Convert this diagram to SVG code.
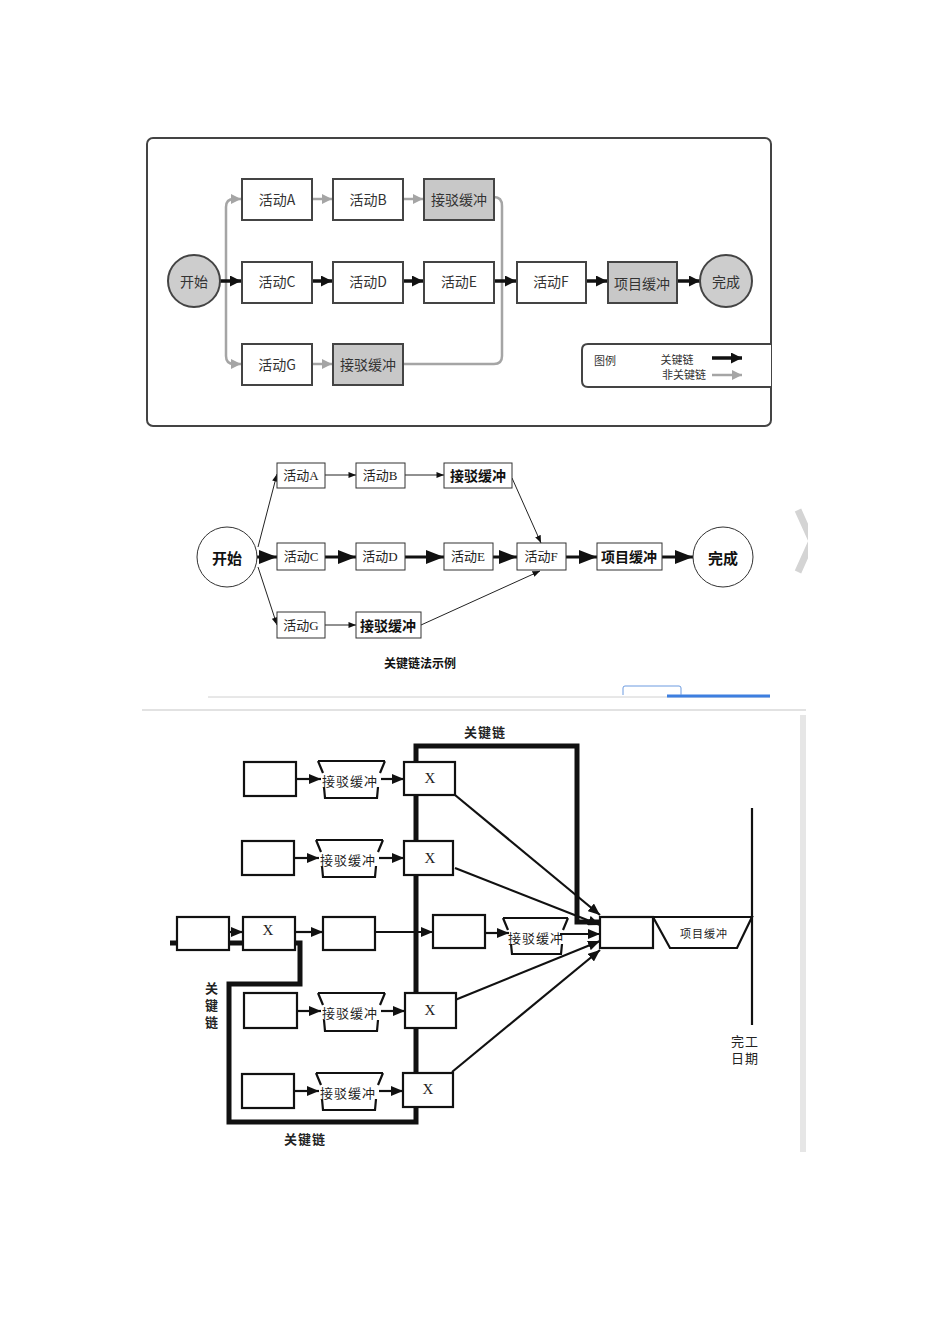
<svg xmlns="http://www.w3.org/2000/svg" width="950" height="1344" viewBox="0 0 950 1344">
<style>
.t1{font-family:"Noto Sans CJK SC","Noto Sans",sans-serif;font-size:14px;fill:#333;text-anchor:middle;dominant-baseline:central}
.b1{fill:#fff;stroke:#444;stroke-width:2}
.g1{fill:#c8c8c8;stroke:#444;stroke-width:2}
.c1{fill:#cdcdcd;stroke:#444;stroke-width:2}
.ga{fill:none;stroke:#a5a5a5;stroke-width:2.5}
.ka{fill:none;stroke:#111;stroke-width:3.5}
.t2{font-family:"Liberation Serif","Noto Sans CJK SC",serif;font-size:13px;fill:#222;text-anchor:middle;dominant-baseline:central}
.t2b{font-family:"Noto Sans CJK SC",sans-serif;font-size:14px;font-weight:bold;fill:#111;text-anchor:middle;dominant-baseline:central}
.b2{fill:#fff;stroke:#333;stroke-width:1}
.n2{fill:none;stroke:#222;stroke-width:1}
.k2{fill:none;stroke:#111;stroke-width:3}
.b3{fill:#fff;stroke:#111;stroke-width:2.2}
.l3{fill:none;stroke:#111;stroke-width:2.2}
.t3{font-family:"Noto Sans CJK SC",serif;font-size:13px;fill:#222;text-anchor:middle;dominant-baseline:central;letter-spacing:1px}
.x3{font-family:"Liberation Serif",serif;font-size:15px;fill:#222;text-anchor:middle;dominant-baseline:central}
</style>
<defs>
<marker id="gh" viewBox="0 0 10 10" refX="10" refY="5" markerWidth="10" markerHeight="10" markerUnits="userSpaceOnUse" orient="auto"><path d="M0,0 L10,5 L0,10 z" fill="#a5a5a5"/></marker>
<marker id="kh" viewBox="0 0 10 10" refX="10" refY="5" markerWidth="11" markerHeight="11" markerUnits="userSpaceOnUse" orient="auto"><path d="M0,0 L10,5 L0,10 z" fill="#111"/></marker>
<marker id="sh" viewBox="0 0 10 8" refX="10" refY="4" markerWidth="8" markerHeight="6" markerUnits="userSpaceOnUse" orient="auto"><path d="M0,0 L10,4 L0,8 z" fill="#111"/></marker>
<marker id="bh" viewBox="0 0 18 14" refX="18" refY="7" markerWidth="18" markerHeight="14" markerUnits="userSpaceOnUse" orient="auto"><path d="M0,0 L18,7 L0,14 z" fill="#111"/></marker>
<marker id="ah" viewBox="0 0 12 10" refX="12" refY="5" markerWidth="12" markerHeight="10" markerUnits="userSpaceOnUse" orient="auto"><path d="M0,0 L12,5 L0,10 z" fill="#111"/></marker>
<clipPath id="cr"><rect x="0" y="0" width="808" height="1344"/></clipPath>
</defs>
<rect width="950" height="1344" fill="#fff"/>

<!-- ===== Top diagram ===== -->
<g id="top-frame"><rect x="147" y="138" width="624" height="288" rx="6" fill="#fff" stroke="#444" stroke-width="2"/></g>
<g id="top-connectors">
<path class="ga" d="M218,281 L226,281 M226,281 L226,207 Q226,199 234,199 L241,199" marker-end="url(#gh)"/>
<path class="ga" d="M226,281 L226,356 Q226,364 234,364 L241,364" marker-end="url(#gh)"/>
<path class="ga" d="M312,199 L332,199" marker-end="url(#gh)"/>
<path class="ga" d="M403,199 L423,199" marker-end="url(#gh)"/>
<path class="ga" d="M312,364 L332,364" marker-end="url(#gh)"/>
<path class="ga" d="M494,197 Q502,197 502,206 L502,281"/>
<path class="ga" d="M403,364 L494,364 Q502,364 502,356 L502,281"/>
<path class="ka" d="M220,281 L241,281" marker-end="url(#kh)"/>
<path class="ka" d="M312,281 L332,281" marker-end="url(#kh)"/>
<path class="ka" d="M403,281 L423,281" marker-end="url(#kh)"/>
<path class="ka" d="M494,281 L516,281" marker-end="url(#kh)"/>
<path class="ka" d="M586,281 L607,281" marker-end="url(#kh)"/>
<path class="ka" d="M677,281 L700,281" marker-end="url(#kh)"/>
</g>
<g id="t-start"><circle class="c1" cx="194" cy="281" r="26"/><text class="t1" x="194" y="281">开始</text></g>
<g id="t-A"><rect class="b1" x="242" y="179" width="70" height="41"/><text class="t1" x="277" y="199">活动A</text></g>
<g id="t-B"><rect class="b1" x="333" y="179" width="70" height="41"/><text class="t1" x="368" y="199">活动B</text></g>
<g id="t-buf1"><rect class="g1" x="424" y="179" width="70" height="41"/><text class="t1" x="459" y="199">接驳缓冲</text></g>
<g id="t-C"><rect class="b1" x="242" y="262" width="70" height="41"/><text class="t1" x="277" y="281">活动C</text></g>
<g id="t-D"><rect class="b1" x="333" y="262" width="70" height="41"/><text class="t1" x="368" y="281">活动D</text></g>
<g id="t-E"><rect class="b1" x="424" y="262" width="70" height="41"/><text class="t1" x="459" y="281">活动E</text></g>
<g id="t-F"><rect class="b1" x="517" y="262" width="69" height="41"/><text class="t1" x="551" y="281">活动F</text></g>
<g id="t-PB"><rect class="g1" x="608" y="262" width="69" height="41"/><text class="t1" x="642" y="283">项目缓冲</text></g>
<g id="t-done"><circle class="c1" cx="726" cy="281" r="26"/><text class="t1" x="726" y="281">完成</text></g>
<g id="t-G"><rect class="b1" x="242" y="344" width="70" height="41"/><text class="t1" x="277" y="364">活动G</text></g>
<g id="t-buf2"><rect class="g1" x="333" y="344" width="70" height="41"/><text class="t1" x="368" y="364">接驳缓冲</text></g>
<g id="t-legend">
<path d="M771,344 L588,344 Q582,344 582,350 L582,381 Q582,387 588,387 L771,387" fill="#fff" stroke="#444" stroke-width="2"/>
<text class="t1" x="605" y="360" style="font-size:11px">图例</text>
<text class="t1" x="677" y="359" style="font-size:11px">关键链</text>
<text class="t1" x="684" y="374" style="font-size:11px">非关键链</text>
<path class="ka" d="M712,358 L742,358" marker-end="url(#kh)"/>
<path class="ga" d="M712,375 L742,375" marker-end="url(#gh)"/>
</g>

<!-- ===== Middle diagram ===== -->
<g id="mid-connectors">
<path class="n2" d="M258,547 L277,474" marker-end="url(#sh)"/>
<path class="n2" d="M258,567 L277,625" marker-end="url(#sh)"/>
<path class="n2" d="M325,475 L356,475" marker-end="url(#sh)"/>
<path class="n2" d="M405,475 L444,475" marker-end="url(#sh)"/>
<path class="n2" d="M325,625 L356,625" marker-end="url(#sh)"/>
<path class="n2" d="M512,478 L541,543" marker-end="url(#sh)"/>
<path class="n2" d="M421,625 L540,571" marker-end="url(#sh)"/>
<path class="k2" d="M257,557 L277,557" marker-end="url(#bh)"/>
<path class="k2" d="M325,557 L356,557" marker-end="url(#bh)"/>
<path class="k2" d="M405,557 L444,557" marker-end="url(#bh)"/>
<path class="k2" d="M493,557 L517,557" marker-end="url(#bh)"/>
<path class="k2" d="M566,557 L597,557" marker-end="url(#bh)"/>
<path class="k2" d="M662,557 L693,557" marker-end="url(#bh)"/>
</g>
<g id="m-start"><circle cx="227" cy="557" r="30" fill="#fff" stroke="#333" stroke-width="1"/><text class="t2b" x="227" y="557" style="font-size:15px">开始</text></g>
<g id="m-A"><rect class="b2" x="277" y="463" width="48" height="25"/><text class="t2" x="301" y="475">活动A</text></g>
<g id="m-B"><rect class="b2" x="356" y="463" width="49" height="25"/><text class="t2" x="380" y="475">活动B</text></g>
<g id="m-buf1"><rect class="b2" x="444" y="463" width="68" height="25"/><text class="t2b" x="478" y="475">接驳缓冲</text></g>
<g id="m-C"><rect class="b2" x="277" y="543" width="48" height="27"/><text class="t2" x="301" y="556">活动C</text></g>
<g id="m-D"><rect class="b2" x="356" y="543" width="49" height="27"/><text class="t2" x="380" y="556">活动D</text></g>
<g id="m-E"><rect class="b2" x="444" y="543" width="49" height="27"/><text class="t2" x="468" y="556">活动E</text></g>
<g id="m-F"><rect class="b2" x="517" y="543" width="49" height="27"/><text class="t2" x="541" y="556">活动F</text></g>
<g id="m-PB"><rect class="b2" x="597" y="543" width="65" height="27"/><text class="t2b" x="629" y="556">项目缓冲</text></g>
<g id="m-done"><circle cx="723" cy="557" r="30" fill="#fff" stroke="#333" stroke-width="1"/><text class="t2b" x="723" y="557" style="font-size:15px">完成</text></g>
<g id="m-G"><rect class="b2" x="277" y="612" width="48" height="26"/><text class="t2" x="301" y="625">活动G</text></g>
<g id="m-buf2"><rect class="b2" x="356" y="612" width="65" height="26"/><text class="t2b" x="388" y="625">接驳缓冲</text></g>
<g id="m-caption"><text class="t2b" x="420" y="662" style="font-size:12px">关键链法示例</text></g>
<g id="m-page" clip-path="url(#cr)">
<polyline points="798,510 812,541 798,572" fill="none" stroke="#d4d4d4" stroke-width="7"/>
<line x1="208" y1="697" x2="770" y2="697" stroke="#d0d0d0" stroke-width="1"/>
<line x1="667" y1="696" x2="770" y2="696" stroke="#3d7fe0" stroke-width="3"/>
<path d="M623,695 L623,688 Q623,686 625,686 L679,686 Q681,686 681,688 L681,695" fill="none" stroke="#6d9be0" stroke-width="1"/>
</g>

<!-- ===== Bottom diagram ===== -->
<g id="page-lines">
<line x1="142" y1="710" x2="806" y2="710" stroke="#e2e2e2" stroke-width="2"/>
<rect x="800" y="715" width="6" height="437" fill="#e6e6e6"/>
</g>
<g id="bot-connectors">
<path class="l3" d="M296,779 L321,779" marker-end="url(#ah)"/>
<path class="l3" d="M381,779 L404,779" marker-end="url(#ah)"/>
<path class="l3" d="M294,858 L319,858" marker-end="url(#ah)"/>
<path class="l3" d="M379,858 L404,858" marker-end="url(#ah)"/>
<path class="l3" d="M297,1011 L321,1011" marker-end="url(#ah)"/>
<path class="l3" d="M381,1011 L405,1011" marker-end="url(#ah)"/>
<path class="l3" d="M294,1091 L319,1091" marker-end="url(#ah)"/>
<path class="l3" d="M379,1091 L403,1091" marker-end="url(#ah)"/>
<path class="l3" d="M229,932 L243,932" marker-end="url(#ah)"/>
<path class="l3" d="M295,932 L323,932" marker-end="url(#ah)"/>
<path class="l3" d="M375,932 L433,932" marker-end="url(#ah)"/>
<path class="l3" d="M485,933 L509,933" marker-end="url(#ah)"/>
<path class="l3" d="M560,934 L600,934" marker-end="url(#ah)"/>
<path class="l3" d="M455,795 L600,915" marker-end="url(#ah)"/>
<path class="l3" d="M455,868 L600,925" marker-end="url(#ah)"/>
<path class="l3" d="M455,1000 L600,941" marker-end="url(#ah)"/>
<path class="l3" d="M452,1072 L600,950" marker-end="url(#ah)"/>
<path d="M170,943 L300,943 L300,984 L229,984 L229,1122 L416,1122 L416,746 L577,746 L577,922 L653,922" fill="none" stroke="#111" stroke-width="5" stroke-linejoin="miter"/>
</g>
<g id="b-r1-a"><rect class="b3" x="244" y="762" width="52" height="34"/></g>
<g id="b-r1-buf"><path class="l3" d="M318,761 L385,761 M318,761 L323,773 M385,761 L380,773 M324,787 L325,798 L377,798 L378,787"/><text class="t3" x="350" y="780">接驳缓冲</text></g>
<g id="b-r1-x"><rect class="b3" x="404" y="762" width="51" height="33"/><text class="x3" x="430" y="778">X</text></g>
<g id="b-r2-a"><rect class="b3" x="242" y="841" width="52" height="34"/></g>
<g id="b-r2-buf"><path class="l3" d="M316,840 L383,840 M316,840 L321,852 M383,840 L378,852 M322,866 L323,877 L375,877 L376,866"/><text class="t3" x="348" y="859">接驳缓冲</text></g>
<g id="b-r2-x"><rect class="b3" x="404" y="841" width="49" height="34"/><text class="x3" x="430" y="858">X</text></g>
<g id="b-r3-a"><rect class="b3" x="177" y="917" width="52" height="33"/></g>
<g id="b-r3-x"><rect class="b3" x="243" y="917" width="52" height="33"/><text class="x3" x="268" y="930">X</text></g>
<g id="b-r3-b"><rect class="b3" x="323" y="917" width="52" height="33"/></g>
<g id="b-r3-c"><rect class="b3" x="433" y="915" width="52" height="33"/></g>
<g id="b-r3-buf"><path class="l3" d="M503,918 L568,918 M503,918 L508,930 M568,918 L563,930 M511,944 L512,954 L561,954 L562,944"/><text class="t3" x="536" y="937">接驳缓冲</text></g>
<g id="b-final"><rect class="b3" x="600" y="917" width="53" height="31"/></g>
<g id="b-pb"><path class="l3" d="M653,917 L752,917 L737,948 L670,948 Z" fill="#fff"/><text class="t3" x="704" y="933" style="font-size:11px">项目缓冲</text></g>
<g id="b-r4-a"><rect class="b3" x="244" y="993" width="53" height="35"/></g>
<g id="b-r4-buf"><path class="l3" d="M318,993 L385,993 M318,993 L323,1005 M385,993 L380,1005 M324,1020 L325,1031 L377,1031 L378,1020"/><text class="t3" x="350" y="1012">接驳缓冲</text></g>
<g id="b-r4-x"><rect class="b3" x="405" y="993" width="51" height="35"/><text class="x3" x="430" y="1010">X</text></g>
<g id="b-r5-a"><rect class="b3" x="242" y="1074" width="52" height="34"/></g>
<g id="b-r5-buf"><path class="l3" d="M316,1073 L383,1073 M316,1073 L321,1085 M383,1073 L378,1085 M322,1099 L323,1110 L375,1110 L376,1099"/><text class="t3" x="348" y="1092">接驳缓冲</text></g>
<g id="b-r5-x"><rect class="b3" x="403" y="1073" width="50" height="34"/><text class="x3" x="428" y="1089">X</text></g>
<g id="b-deadline"><line x1="752" y1="808" x2="752" y2="1025" stroke="#111" stroke-width="2.2"/><text class="t3" x="745" y="1040">完工</text><text class="t3" x="745" y="1057">日期</text></g>
<g id="b-labels">
<text class="t3" x="485" y="731" style="font-weight:bold">关键链</text>
<text class="t3" x="212" y="987" style="font-weight:bold">关</text>
<text class="t3" x="212" y="1004" style="font-weight:bold">键</text>
<text class="t3" x="212" y="1021" style="font-weight:bold">链</text>
<text class="t3" x="305" y="1138" style="font-weight:bold">关键链</text>
</g>
</svg>
